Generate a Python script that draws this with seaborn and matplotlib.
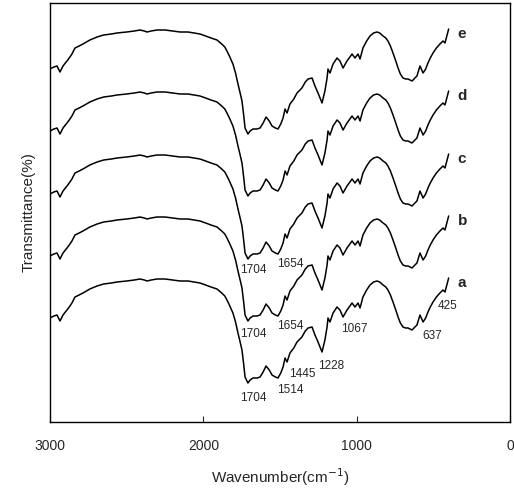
import numpy as np
import pandas as pd
import matplotlib
matplotlib.use('Agg')
import matplotlib.pyplot as plt
import seaborn as sns

# spectrum a (wavenumber cm-1, transmittance in arbitrary units)
wavenumber = [3000, 2975, 2954, 2935, 2915, 2900, 2889, 2870, 2857, 2837, 2810, 2785,
              2740, 2693, 2650, 2600, 2563, 2500, 2450, 2413, 2385, 2367, 2340, 2302,
              2250, 2200, 2152, 2100, 2060, 2022, 1985, 1950, 1911, 1880, 1860, 1846,
              1830, 1807, 1790, 1774, 1760, 1748, 1737, 1728, 1709, 1695, 1676, 1650,
              1630, 1610, 1591, 1570, 1552, 1530, 1513, 1495, 1480, 1467, 1454, 1435,
              1410, 1389, 1357, 1335, 1317, 1291, 1272, 1252, 1226, 1207, 1193, 1187,
              1174, 1154, 1128, 1109, 1089, 1063, 1030, 1011, 991, 978, 959, 935, 913,
              890, 867, 850, 828, 810, 796, 780, 763, 745, 730, 715, 698, 680, 665,
              639, 620, 607, 587, 567, 550, 535, 520, 502, 480, 457, 437, 424, 400]
trans_a = [104, 106, 107, 101, 107, 110, 112, 116, 119, 125, 127, 129,
           133, 136, 138, 139, 140, 141, 142, 143, 142, 141, 142, 143,
           143, 142, 141, 141, 140, 139, 137, 135, 133, 129, 126, 122,
           117, 109, 100, 89, 80, 72, 58, 45, 39, 42, 44, 44,
           45, 50, 56, 52, 47, 45, 44, 49, 55, 64, 60, 69,
           74, 80, 85, 91, 94, 95, 87, 80, 70, 82, 95, 104,
           100, 109, 115, 112, 105, 112, 119, 115, 119, 114, 125, 132, 137,
           140, 141, 140, 137, 135, 132, 127, 120, 112, 105, 99, 95, 94, 94,
           92, 95, 97, 107, 100, 104, 110, 115, 120, 125, 129, 132, 130, 144]

samples = ['a', 'b', 'c', 'd', 'e']
shift = [0, 62, 124, 187, 249]

peaks_a = ['1704', '1514', '1445', '1228', '1067', '637', '425']
peaks_b = ['1704', '1654']
peaks_c = ['1704', '1654']

rows = []
for s, off in zip(samples, shift):
    for w, t in zip(wavenumber, trans_a):
        rows.append({'sample': s, 'w': w, 'T': t + off})
df = pd.DataFrame(rows)

sns.set_style('ticks')
plt.rcParams['font.family'] = ['Liberation Sans', 'DejaVu Sans']

fig = plt.figure(figsize=(5.14, 4.91), dpi=100)
ax = fig.add_axes([50/514, 69/491, 460/514, 419/491])

sns.lineplot(data=df, x='w', y='T', units='sample', estimator=None, sort=False,
             color='black', lw=1.1, ax=ax)

ax.set_xlim(3000, 0)
ax.set_ylim(0, 419)
ax.set_xticks([3000, 2000, 1000, 0])
ax.set_yticks([])
ax.tick_params(axis='x', direction='in', length=4, labelsize=10, pad=12)
for sp in ax.spines.values():
    sp.set_linewidth(1.0)
    sp.set_color('black')
ax.set_xlabel('Wavenumber(cm$^{-1}$)', fontsize=11, labelpad=10)
ax.set_ylabel('Transmittance(%)', fontsize=11, labelpad=10)

# sample letters at the right end of each curve
for s, off in zip(samples, shift):
    ax.text(340, 139 + off, s, fontsize=11, fontweight='bold', ha='left', va='center')

# peak labels
pos_a = [(1760, 24), (1520, 32), (1440, 48), (1250, 56), (1100, 93), (570, 86), (470, 116)]
for lab, (x, y) in zip(peaks_a, pos_a):
    ax.text(x, y, lab, fontsize=8.5, ha='left', va='center')
pos_b = [(1760, 88), (1520, 96)]
for lab, (x, y) in zip(peaks_b, pos_b):
    ax.text(x, y, lab, fontsize=8.5, ha='left', va='center')
pos_c = [(1760, 152), (1520, 158)]
for lab, (x, y) in zip(peaks_c, pos_c):
    ax.text(x, y, lab, fontsize=8.5, ha='left', va='center')

fig.savefig('out.png', dpi=100)
